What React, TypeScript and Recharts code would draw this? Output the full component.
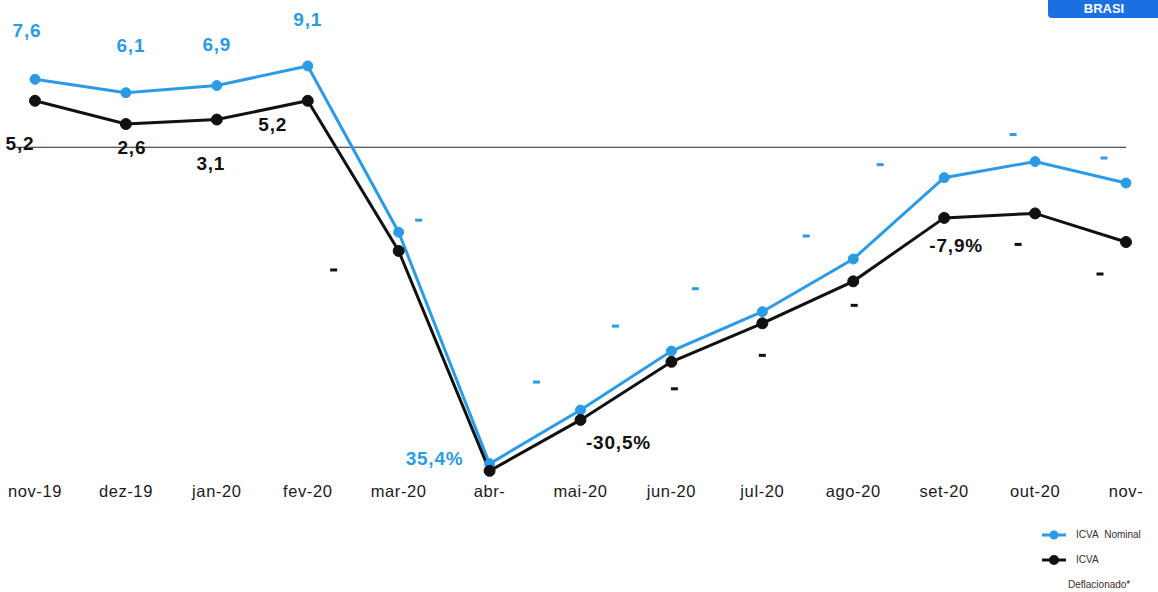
import type { JSX } from 'react';
import { LabelList, Line, LineChart, ReferenceLine, XAxis, YAxis } from 'recharts';

const months = [
  'nov-19', 'dez-19', 'jan-20', 'fev-20', 'mar-20', 'abr-', 'mai-20',
  'jun-20', 'jul-20', 'ago-20', 'set-20', 'out-20', 'nov-',
];
const nominal = [7.6, 6.1, 6.9, 9.1, -9.5, -35.4, -29.4, -22.8, -18.4, -12.5, -3.4, -1.6, -4.0];
const deflated = [5.2, 2.6, 3.1, 5.2, -11.6, -36.2, -30.5, -24.0, -19.7, -15.0, -7.9, -7.4, -10.6];

// texts printed next to each point ('' = nothing, '-' = stray minus sign)
const nominalLabels = ['7,6', '6,1', '6,9', '9,1', '-', '35,4%', '-', '-', '-', '-', '-', '-', '-'];
const deflatedLabels = ['5,2', '2,6', '3,1', '5,2', '-', '', '-30,5%', '-', '-', '-', '-7,9%', '-', '-'];

const BLUE = '#2b9be6';
const BLACK = '#111111';
const FONT = "'Liberation Sans', Arial, sans-serif";

// label offsets from the point, in px
const nominalOffsets: Array<[number, number]> = [
  [-8, -49], [5, -47], [0, -41], [0, -46], [20, -12], [-55, -5],
  [-44, -28], [-56, -25], [-67, -23], [-47, -23], [-64, -13], [-22, -27], [-22, -25],
];
const deflatedOffsets: Array<[number, number]> = [
  [-15, 43], [6, 23], [-6, 44], [-35, 24], [-65, 19], [0, 0],
  [38, 23], [3, 27], [0, 32], [1, 24], [12, 28], [-17, 31], [-26, 32],
];

const data = months.map((month, i) => ({
  month,
  nominal: nominal[i],
  deflated: deflated[i],
}));

type LabelProps = { x?: number; y?: number; index?: number };

const makeLabel =
  (texts: string[], offsets: Array<[number, number]>, color: string) =>
  ({ x = 0, y = 0, index = 0 }: LabelProps): JSX.Element | null => {
    const text = texts[index];
    if (!text) return null;
    const [dx, dy] = offsets[index];
    if (text === '-') {
      return <rect x={x + dx - 3.5} y={y + dy - 1.5} width={7} height={3} fill={color} />;
    }
    return (
      <text
        x={x + dx}
        y={y + dy}
        textAnchor="middle"
        dominantBaseline="central"
        fill={color}
        fontFamily={FONT}
        fontWeight="bold"
        fontSize={19}
        letterSpacing={0.8}
      >
        {text}
      </text>
    );
  };

// zero line, stretched a little to the left of the first point
const ZeroLine = (props: { x1?: number; x2?: number; y1?: number; y2?: number }): JSX.Element => (
  <line x1={(props.x1 ?? 0) - 22} x2={props.x2} y1={props.y1} y2={props.y2} stroke="#222" strokeWidth={1.2} />
);

const LegendBox = (): JSX.Element => (
  <div
    style={{
      position: 'absolute',
      left: 1040,
      top: 522,
      fontFamily: FONT,
      fontSize: 10,
      color: '#3a2a2a',
      lineHeight: '25px',
    }}
  >
    <div style={{ display: 'flex', alignItems: 'center' }}>
      <svg width={28} height={12}>
        <line x1={2} y1={6} x2={26} y2={6} stroke={BLUE} strokeWidth={3} />
        <circle cx={14} cy={6} r={4.5} fill={BLUE} />
      </svg>
      <span style={{ marginLeft: 8 }}>ICVA&nbsp;&nbsp;Nominal</span>
    </div>
    <div style={{ display: 'flex', alignItems: 'center' }}>
      <svg width={28} height={12}>
        <line x1={2} y1={6} x2={26} y2={6} stroke={BLACK} strokeWidth={3} />
        <circle cx={14} cy={6} r={5} fill={BLACK} />
      </svg>
      <span style={{ marginLeft: 8 }}>ICVA</span>
    </div>
    <div style={{ marginLeft: 28 }}>Deflacionado*</div>
  </div>
);

export default function App(): JSX.Element {
  return (
    <div style={{ position: 'relative', width: 1158, height: 592, background: '#fff', overflow: 'hidden' }}>
      <style>{'body{margin:0}'}</style>
      <div
        style={{
          position: 'absolute',
          left: 1048,
          top: 0,
          width: 112,
          height: 18,
          background: '#1b6fe0',
          borderRadius: '0 0 0 4px',
          color: '#fff',
          fontFamily: FONT,
          fontWeight: 'bold',
          fontSize: 13,
          textAlign: 'center',
          lineHeight: '18px',
        }}
      >
        BRASI
      </div>
      <LineChart width={1158} height={592} data={data} margin={{ top: 40, right: 32, bottom: 84, left: 35 }}>
        <XAxis
          dataKey="month"
          axisLine={false}
          tickLine={false}
          tickSize={0}
          tickMargin={7}
          height={30}
          interval={0}
          tick={{ fill: '#1a1a1a', fontSize: 16.5, fontFamily: FONT, letterSpacing: 0.6 }}
        />
        <YAxis hide domain={[-37, 12]} />
        <ReferenceLine y={0} shape={ZeroLine} />
        <Line
          type="linear"
          dataKey="nominal"
          stroke={BLUE}
          strokeWidth={3}
          dot={{ r: 5, fill: BLUE, stroke: BLUE, strokeWidth: 1 }}
          isAnimationActive={false}
        >
          <LabelList dataKey="nominal" content={makeLabel(nominalLabels, nominalOffsets, BLUE)} />
        </Line>
        <Line
          type="linear"
          dataKey="deflated"
          stroke={BLACK}
          strokeWidth={3}
          dot={{ r: 5.5, fill: BLACK, stroke: BLACK, strokeWidth: 1 }}
          isAnimationActive={false}
        >
          <LabelList dataKey="deflated" content={makeLabel(deflatedLabels, deflatedOffsets, BLACK)} />
        </Line>
      </LineChart>
      <LegendBox />
    </div>
  );
}
